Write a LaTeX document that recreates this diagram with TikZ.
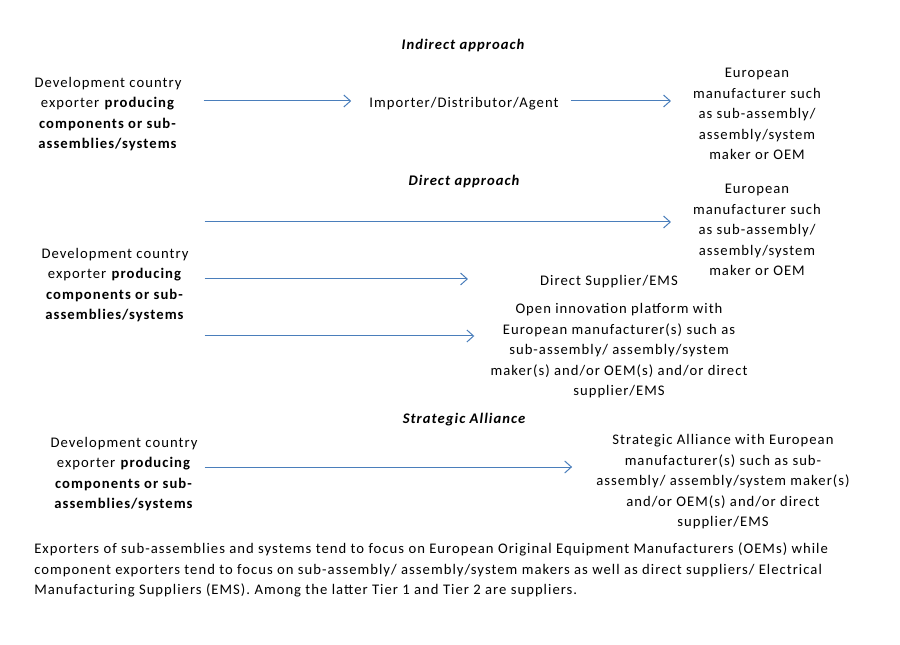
\documentclass[tikz,border=0pt]{standalone}
\usepackage{fontspec}
\setmainfont{Carlito}[LetterSpace=7]
\usetikzlibrary{arrows.meta,positioning,calc}
\definecolor{flowblue}{HTML}{4A7EBB}

\begin{document}
\begin{tikzpicture}[x=0.75pt, y=-0.75pt]
\tikzset{txt/.style={align=center, inner sep=0pt, font=\fontsize{11}{15.4}\selectfont},
  heading/.style={txt, font=\fontsize{11}{15.4}\selectfont\bfseries\itshape},
  flow/.style={draw=flowblue, line width=0.75pt, -{Straight Barb[length=5pt,width=9pt]}}}
\useasboundingbox (0,0) rectangle (900,645);
% indirect approach
\node[heading] (indirect) at (463,46) {Indirect approach};
\node[txt] (dev1) at (108,114) {Development country\\exporter \textbf{producing}\\\textbf{components or sub-}\\\textbf{assemblies/systems}};
\node[txt] (imp) at (464,104) {Importer/Distributor/Agent};
\node[txt] (eu1) at (757,114) {European\\manufacturer such\\as sub-assembly/\\assembly/system\\maker or OEM};
\draw[flow] ($(dev1.east |- imp.west)+(22,-3)$) -- ($(imp.west)+(-18,-3)$);
\draw[flow] ($(imp.east)+(12,-3)$) -- ($(imp.east -| eu1.west)+(-22,-3)$);
% direct approach
\node[heading] (direct) at (464,182) {Direct approach};
\node[txt] (eu2) at (757,230) {European\\manufacturer such\\as sub-assembly/\\assembly/system\\maker or OEM};
\node[txt] (dev2) at (115,285) {Development country\\exporter \textbf{producing}\\\textbf{components or sub-}\\\textbf{assemblies/systems}};
\node[txt] (dsup) at (609,282) {Direct Supplier/EMS};
\node[txt] (open) at (619,351) {Open innovation platform with\\European manufacturer(s) such as\\sub-assembly/ assembly/system\\maker(s) and/or OEM(s) and/or direct\\supplier/EMS};
\draw[flow] ($(dev2.east |- eu2.west)+(16,-8)$) -- ($(eu2.west)+(-22,-8)$);
\draw[flow] ($(dev2.east |- dsup.west)+(16,-3)$) -- ($(dsup.west)+(-72,-3)$);
\draw[flow] ($(dev2.east |- open.west)+(16,-15)$) -- ($(open.west)+(-16,-15)$);
% strategic alliance
\node[heading] (strat) at (464,420) {Strategic Alliance};
\node[txt] (dev3) at (124,474) {Development country\\exporter \textbf{producing}\\\textbf{components or sub-}\\\textbf{assemblies/systems}};
\node[txt] (sa) at (723,482) {Strategic Alliance with European\\manufacturer(s) such as sub-\\assembly/ assembly/system maker(s)\\and/or OEM(s) and/or direct\\supplier/EMS};
\draw[flow] ($(dev3.east)+(7,-7)$) -- ($(dev3.east -| sa.west)+(-24,-7)$);
% note
\node[txt, align=left, anchor=west] (note) at (34,570) {Exporters of sub-assemblies and systems tend to focus on European Original Equipment Manufacturers (OEMs) while\\component exporters tend to focus on sub-assembly/ assembly/system makers as well as direct suppliers/ Electrical\\Manufacturing Suppliers (EMS). Among the latter Tier 1 and Tier 2 are suppliers.};
\end{tikzpicture}
\end{document}
